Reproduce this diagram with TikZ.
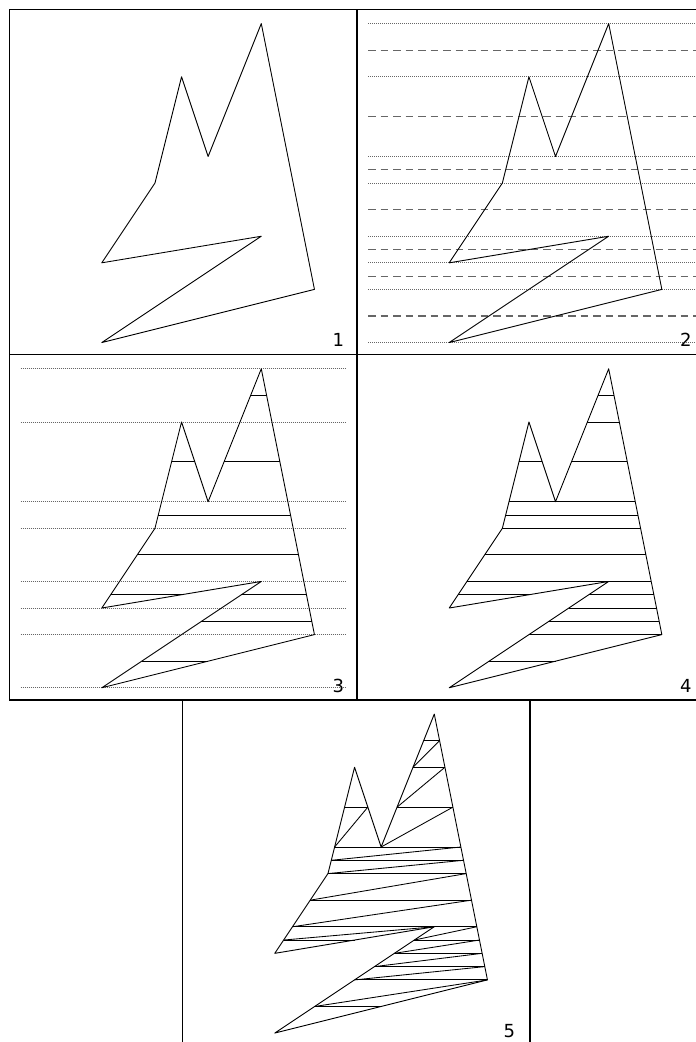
\documentclass[tikz,border=0pt]{standalone}
\usepackage{fontspec}
\newfontfamily\labfont{DejaVu Sans}
\begin{document}
\begin{tikzpicture}[x=1pt,y=-1pt,
  frame/.style={draw=black,line width=1.6pt},
  poly/.style={draw=black,line width=0.9pt,line join=round},
  seg/.style={draw=black,line width=0.85pt},
  vline/.style={draw=black!60,line width=0.8pt,dash pattern=on 1.2pt off 0.8pt},
  mline/.style={draw=black!60,line width=1.1pt,dash pattern=on 7.5pt off 5pt},
  lab/.style={anchor=base east,inner sep=0pt,font=\labfont\fontsize{18}{20}\selectfont},
  grid/.style={x=26.58pt,y=-26.58pt}]
\useasboundingbox (0,0) rectangle (696,1042);
\clip (0,0) rectangle (696,1042);
\def\allsegs{5.6/6.2/1, 5.2/6.4/2, 2.625/3.5/3.5, 4.6/6.7/3.5, 2.25/7/5, 2.125/7.1/5.5, 2/7.2/6, 1.3333/7.4/7, 0.6667/7.6/8, 0.3333/3/8.5, 5.25/7.7/8.5, 4.5/7.8/9, 3.75/7.9/9.5, 3/8/10, 1.5/4/11}
\def\midsegs{5.6/6.2/1, 2.625/3.5/3.5, 4.6/6.7/3.5, 2.125/7.1/5.5, 1.3333/7.4/7, 0.3333/3/8.5, 5.25/7.7/8.5, 3.75/7.9/9.5, 1.5/4/11}
\def\diags{6.2/1/5.2/2, 6.4/2/4.6/3.5, 6.7/3.5/4/5, 3.5/3.5/2.25/5, 7/5/2.125/5.5, 7.1/5.5/2/6, 7.2/6/1.3333/7, 7.4/7/0.6667/8, 6/8/0.3333/8.5, 7.6/8/5.25/8.5, 7.7/8.5/4.5/9, 7.8/9/3.75/9.5, 7.9/9.5/3/10, 8/10/1.5/11}
% ---------- panel 1
\begin{scope}[shift={(9.3,9.3)}]
  \draw[frame] (0,0) rectangle (347.4,345.2);
  \begin{scope}[shift={(92.5,14.3)}]\begin{scope}[grid]
    \draw[poly] (6,0) -- (8,10) -- (0,12) -- (6,8) -- (0,9) -- (2,6) -- (3,2) -- (4,5) -- cycle;
  \end{scope}\end{scope}
  \node[lab] (l1) at (335,337.5) {1};
\end{scope}
% ---------- panel 2
\begin{scope}[shift={(356.7,9.3)}]
  \draw[frame] (0,0) rectangle (347.4,345.2);
  \begin{scope}[shift={(92.5,14.3)}]\begin{scope}[grid]
    \foreach \y in {0,2,5,6,8,9,10,12} \draw[vline] (-3.05,\y) -- (9.3,\y);
    \foreach \y in {1,3.5,5.5,7,8.5,9.5,11} \draw[mline] (-3.05,\y) -- (9.3,\y);
    \draw[poly] (6,0) -- (8,10) -- (0,12) -- (6,8) -- (0,9) -- (2,6) -- (3,2) -- (4,5) -- cycle;
  \end{scope}\end{scope}
  \node[lab] (l2) at (335,337.5) {2};
\end{scope}
% ---------- panel 3
\begin{scope}[shift={(9.3,354.5)}]
  \draw[frame] (0,0) rectangle (347.4,345.2);
  \begin{scope}[shift={(92.5,14.3)}]\begin{scope}[grid]
    \foreach \y in {0,2,5,6,8,9,10,12} \draw[vline] (-3.05,\y) -- (9.21,\y);
    \foreach \a/\b/\y in \midsegs \draw[seg] (\a,\y) -- (\b,\y);
    \draw[poly] (6,0) -- (8,10) -- (0,12) -- (6,8) -- (0,9) -- (2,6) -- (3,2) -- (4,5) -- cycle;
  \end{scope}\end{scope}
  \node[lab] (l3) at (335,337.5) {3};
\end{scope}
% ---------- panel 4
\begin{scope}[shift={(356.7,354.5)}]
  \draw[frame] (0,0) rectangle (347.4,345.2);
  \begin{scope}[shift={(92.5,14.3)}]\begin{scope}[grid]
    \foreach \a/\b/\y in \allsegs \draw[seg] (\a,\y) -- (\b,\y);
    \draw[poly] (6,0) -- (8,10) -- (0,12) -- (6,8) -- (0,9) -- (2,6) -- (3,2) -- (4,5) -- cycle;
  \end{scope}\end{scope}
  \node[lab] (l4) at (335,337.5) {4};
\end{scope}
% ---------- panel 5
\begin{scope}[shift={(182.3,699.8)}]
  \draw[frame] (0,0) rectangle (347.4,345.2);
  \begin{scope}[shift={(92.5,14.3)}]\begin{scope}[grid]
    \foreach \a/\b/\y in \allsegs \draw[seg] (\a,\y) -- (\b,\y);
    \foreach \xa/\ya/\xb/\yb in \diags \draw[seg] (\xa,\ya) -- (\xb,\yb);
    \draw[poly] (6,0) -- (8,10) -- (0,12) -- (6,8) -- (0,9) -- (2,6) -- (3,2) -- (4,5) -- cycle;
  \end{scope}\end{scope}
  \node[lab] (l5) at (333,337.5) {5};
\end{scope}
\end{tikzpicture}
\end{document}
